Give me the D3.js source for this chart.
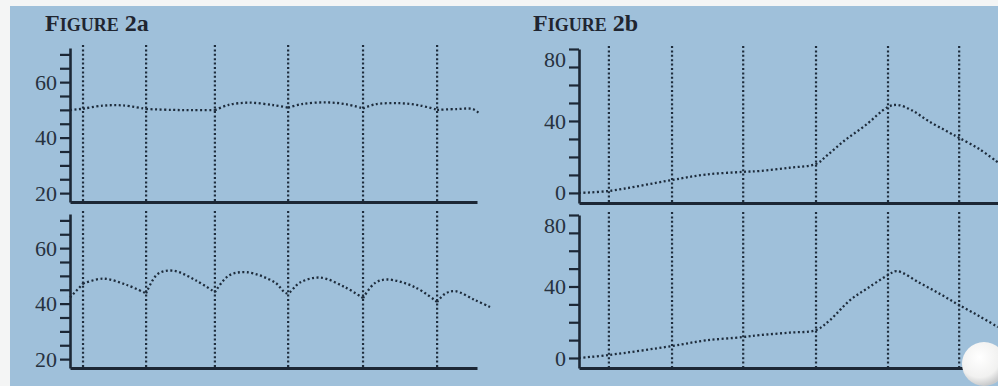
<!DOCTYPE html>
<html><head><meta charset="utf-8">
<script src="https://cdn.jsdelivr.net/npm/d3@7"></script>
<style>html,body{margin:0;padding:0;background:#f4f5f5;} svg{display:block}</style>
</head><body>
<svg id="c" width="998" height="386"></svg>
<script>
// ---------- data ----------
const leftTickValues = [20,25,30,35,40,45,50,55,60,65,70];
const leftTickLabels = [20,40,60];
const rightTickValues = [0,10,20,30,40,50,60,70,80];
const rightTickLabels = [0,40,80];

// vertical marker positions (x units 0..100 across each panel)
const leftMarkers  = [3.2, 18.7, 35.6, 53.6, 72.0, 90.2];
const rightMarkers = [7.1, 22.1, 39.0, 56.3, 73.4, 90.3];

// Figure 2a, upper series
const fig2aTopX = [0, 3.2, 8, 13, 18.7, 25, 30, 35.6, 39, 44, 50, 53.6, 57, 63, 68, 72.0, 75, 81, 86, 90.2, 95, 99, 100.5];
const fig2aTopY = [49.9, 50.4, 51.5, 51.6, 50.3, 50.0, 49.9, 49.9, 51.8, 52.6, 51.7, 50.8, 52.1, 52.7, 52.0, 50.5, 52.0, 52.4, 51.6, 50.0, 50.3, 50.3, 48.8];
// Figure 2a, lower series
const fig2aBotX = [0, 3.2, 8.1, 14, 18.7, 21.5, 25.3, 31, 35.6, 39, 43.5, 50.4, 53.3, 56.5, 61.4, 67.6, 72.0, 74.9, 77.9, 84.8, 90.2, 92.2, 94.6, 99.5, 103.2];
const fig2aBotY = [42.2, 47.2, 49.0, 46.7, 43.7, 50.6, 51.9, 48.3, 44.1, 50.1, 51.3, 47.6, 43.7, 47.6, 49.4, 45.9, 42.0, 47.4, 48.7, 45.9, 40.6, 43.6, 44.5, 41.3, 38.8];
// Figure 2b, upper series
const fig2bTopX = [0, 7.1, 22.1, 30, 39.0, 43.0, 50, 56.3, 59, 63, 68, 73.4, 75.7, 79, 83, 88, 90.3, 95, 99.5];
const fig2bTopY = [0, 1.1, 7.2, 10.2, 11.7, 12.2, 14.0, 16.1, 21.0, 29.0, 37.5, 47.8, 48.9, 46.0, 40.0, 33.5, 30.6, 24.5, 17.0];
// Figure 2b, lower series
const fig2bBotX = [0, 7.1, 22.1, 30, 39.0, 43.0, 50, 56.3, 59.6, 64.4, 68.5, 73.4, 75.5, 81.0, 86, 90.3, 95, 99.5];
const fig2bBotY = [0, 1.7, 6.7, 9.8, 11.7, 12.8, 14.2, 15.6, 21.2, 32.4, 39.0, 46.4, 48.6, 41.9, 35.5, 29.6, 23.5, 17.3];

const titles = ["F|IGURE| 2a", "F|IGURE| 2b"];

// ---------- drawing ----------
const svg = d3.select("#c");
const INK = "#1c2735";
const DOT = "#1e2c3c";

svg.append("rect").attr("x",10).attr("y",6).attr("width",988).attr("height",380).attr("fill","#9fc0da");

const panels = [
  {xr:[70,477],  yr:[202,48],  yd:[16.8,72.3], ticks:leftTickValues,  labels:leftTickLabels,  markers:leftMarkers,  xs:fig2aTopX, ys:fig2aTopY, split:true},
  {xr:[70,477],  yr:[368,214], yd:[16.8,72.3], ticks:leftTickValues,  labels:leftTickLabels,  markers:leftMarkers,  xs:fig2aBotX, ys:fig2aBotY, split:true},
  {xr:[579,1000],yr:[203,49],  yd:[-5.6,80],   ticks:rightTickValues, labels:rightTickLabels, markers:rightMarkers, xs:fig2bTopX, ys:fig2bTopY, split:false},
  {xr:[579,1000],yr:[368,215], yd:[-5.6,80],   ticks:rightTickValues, labels:rightTickLabels, markers:rightMarkers, xs:fig2bBotX, ys:fig2bBotY, split:false}
];

panels.forEach(p => {
  const x = d3.scaleLinear().domain([0,100]).range(p.xr);
  const y = d3.scaleLinear().domain(p.yd).range(p.yr);
  const g = svg.append("g");

  // vertical dotted markers
  g.selectAll("line.m").data(p.markers).join("line")
    .attr("x1", d=>x(d)).attr("x2", d=>x(d))
    .attr("y1", p.yr[1]-3).attr("y2", p.yr[0])
    .attr("stroke", DOT).attr("stroke-width", 2.2).attr("stroke-dasharray", "2 2.4");

  // series
  const pts = p.xs.map((v,i)=>[v,p.ys[i]]);
  let segs = [pts];
  if (p.split) {
    segs = []; let cur = [];
    pts.forEach(pt => {
      cur.push(pt);
      if (p.markers.some(m => Math.abs(m-pt[0])<0.05) && cur.length>1) { segs.push(cur); cur=[pt]; }
    });
    if (cur.length>1) segs.push(cur);
  }
  const line = d3.line().x(d=>x(d[0])).y(d=>y(d[1])).curve(d3.curveCatmullRom.alpha(0.5));
  g.selectAll("path.s").data(segs).join("path")
    .attr("d", line).attr("fill","none")
    .attr("stroke", DOT).attr("stroke-width", 2.3).attr("stroke-dasharray", "2 2.5");

  // y axis
  const topVal = p.ticks[p.ticks.length-1];
  const ya = d3.axisLeft(y).tickValues(p.ticks).tickSize(10).tickSizeOuter(0).tickPadding(3)
    .tickFormat(d => p.labels.includes(d) ? d : "");
  const yg = g.append("g").attr("transform",`translate(${p.xr[0]},0)`).call(ya);
  yg.select(".domain").attr("stroke", INK).attr("stroke-width", 2.6);
  yg.selectAll(".tick line").attr("stroke", INK).attr("stroke-width", 2.2);
  yg.selectAll(".tick text").attr("fill","#27323f").attr("font-family","'Liberation Serif', serif").attr("font-size",22)
    .attr("dy", d => (d === topVal && p.labels.includes(topVal)) ? "0.78em" : "0.32em");

  // x axis line
  const xa = d3.axisBottom(x).tickValues([]).tickSizeOuter(0);
  const xg = g.append("g").attr("transform",`translate(0,${p.yr[0]})`).call(xa);
  xg.select(".domain").attr("stroke", INK).attr("stroke-width", 2.8);
});

// titles
const titlePos = [[45,31],[533,31]];
titles.forEach((t,i) => {
  const parts = t.split("|");
  const tx = svg.append("text").attr("x",titlePos[i][0]).attr("y",titlePos[i][1])
    .attr("font-family","'Liberation Serif', serif").attr("font-weight","bold").attr("fill","#1f2530");
  tx.append("tspan").attr("font-size",24).text(parts[0]);
  tx.append("tspan").attr("font-size",18).text(parts[1]);
  tx.append("tspan").attr("font-size",24).text(parts[2]);
});

// photo artifact: white ball in lower-right corner
const defs = svg.append("defs");
const rg = defs.append("radialGradient").attr("id","ball").attr("cx","40%").attr("cy","35%").attr("r","65%");
rg.append("stop").attr("offset","0%").attr("stop-color","#ffffff");
rg.append("stop").attr("offset","70%").attr("stop-color","#f1f1f0");
rg.append("stop").attr("offset","100%").attr("stop-color","#c9cacb");
svg.append("circle").attr("cx",984).attr("cy",364).attr("r",22).attr("fill","url(#ball)");
</script>
</body></html>
